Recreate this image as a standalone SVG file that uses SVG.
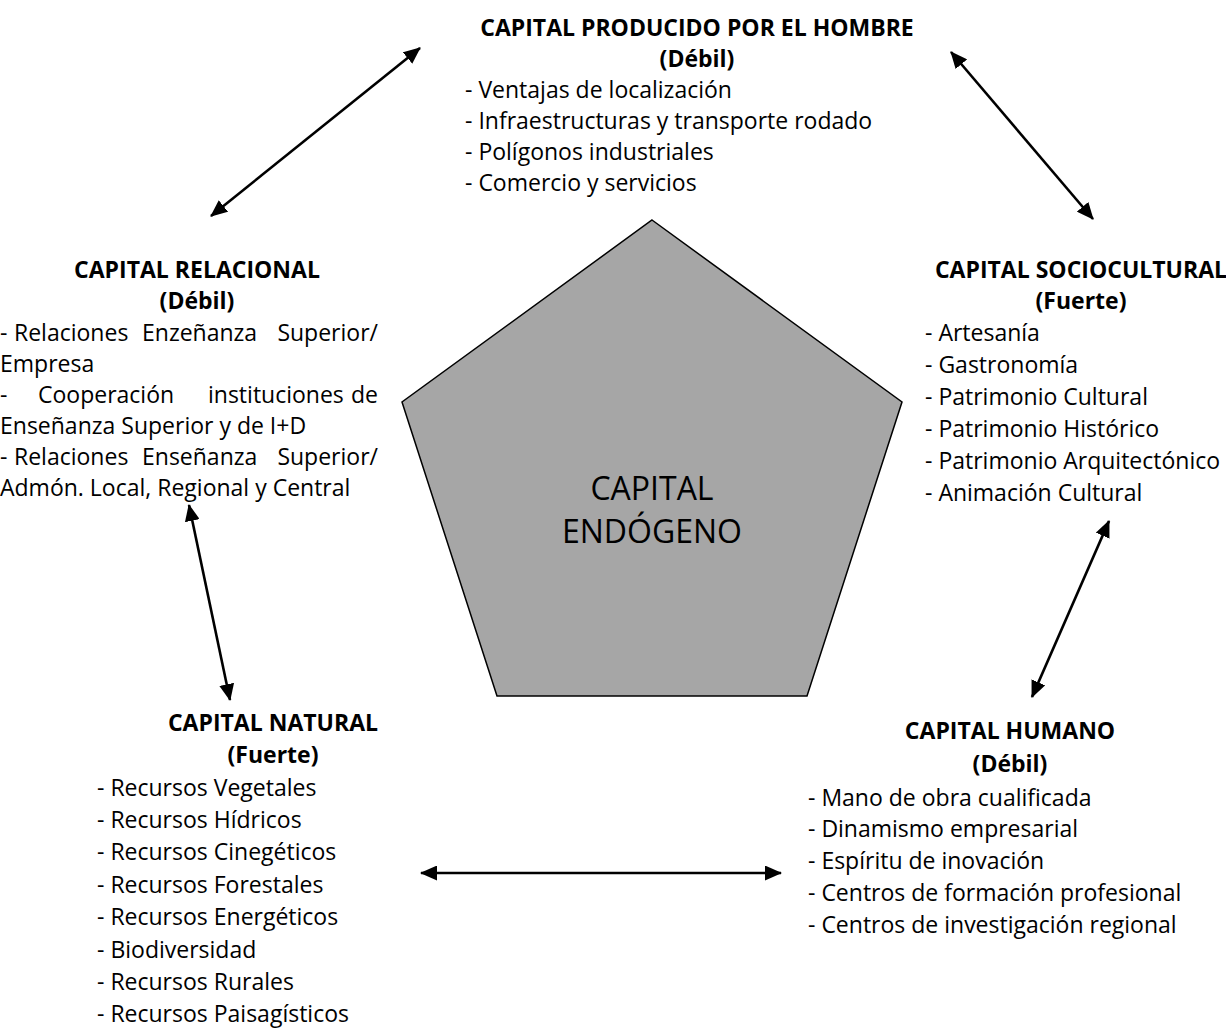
<svg xmlns="http://www.w3.org/2000/svg" width="1226" height="1028" viewBox="0 0 1226 1028">
<style>
text{font-family:"Open Sans","Liberation Sans",sans-serif;font-size:23px;fill:#000}
.t{font-weight:bold;text-anchor:middle}
.c{font-size:32px;text-anchor:middle}
.ln{stroke:#000;stroke-width:2.6;fill:none;marker-start:url(#ah);marker-end:url(#ah)}
</style>
<defs>
<marker id="ah" markerUnits="userSpaceOnUse" markerWidth="17" markerHeight="15" refX="16" refY="7.5" orient="auto-start-reverse" viewBox="0 0 17 15">
<path d="M0,0 L17,7.5 L0,15 Z" fill="#000"/>
</marker>
</defs>
<rect width="1226" height="1028" fill="#fff"/>
<g id="endogeno">
<polygon points="652,220 902,402 807,696 497,696 402,402" fill="#a6a6a6" stroke="#000" stroke-width="1.5"/>
<text class="c" x="652" y="500">CAPITAL</text>
<text class="c" x="652" y="543">ENDÓGENO</text>
</g>
<g id="producido">
<text class="t" x="697" y="36">CAPITAL PRODUCIDO POR EL HOMBRE</text>
<text class="t" x="697" y="67">(Débil)</text>
<text x="465" y="98">- Ventajas de localización</text>
<text x="465" y="129">- Infraestructuras y transporte rodado</text>
<text x="465" y="160">- Polígonos industriales</text>
<text x="465" y="191">- Comercio y servicios</text>
</g>
<g id="relacional">
<text class="t" x="197" y="278">CAPITAL RELACIONAL</text>
<text class="t" x="197" y="309">(Débil)</text>
<text y="341"><tspan x="0">-</tspan><tspan x="14">Relaciones</tspan><tspan x="142">Enzeñanza</tspan><tspan x="378" text-anchor="end">Superior/</tspan></text>
<text x="0" y="372">Empresa</text>
<text y="403"><tspan x="0">-</tspan><tspan x="38">Cooperación</tspan><tspan x="208">instituciones</tspan><tspan x="378" text-anchor="end">de</tspan></text>
<text x="0" y="434">Enseñanza Superior y de I+D</text>
<text y="465"><tspan x="0">-</tspan><tspan x="14">Relaciones</tspan><tspan x="142">Enseñanza</tspan><tspan x="378" text-anchor="end">Superior/</tspan></text>
<text x="0" y="496">Admón. Local, Regional y Central</text>
</g>
<g id="sociocultural">
<text class="t" x="1081" y="278">CAPITAL SOCIOCULTURAL</text>
<text class="t" x="1081" y="309">(Fuerte)</text>
<text x="925" y="341">- Artesanía</text>
<text x="925" y="373">- Gastronomía</text>
<text x="925" y="405">- Patrimonio Cultural</text>
<text x="925" y="437">- Patrimonio Histórico</text>
<text x="925" y="469">- Patrimonio Arquitectónico</text>
<text x="925" y="501">- Animación Cultural</text>
</g>
<g id="natural">
<text class="t" x="273" y="731">CAPITAL NATURAL</text>
<text class="t" x="273" y="763">(Fuerte)</text>
<text x="97" y="796">- Recursos Vegetales</text>
<text x="97" y="828">- Recursos Hídricos</text>
<text x="97" y="860">- Recursos Cinegéticos</text>
<text x="97" y="893">- Recursos Forestales</text>
<text x="97" y="925">- Recursos Energéticos</text>
<text x="97" y="958">- Biodiversidad</text>
<text x="97" y="990">- Recursos Rurales</text>
<text x="97" y="1022">- Recursos Paisagísticos</text>
</g>
<g id="humano">
<text class="t" x="1010" y="739">CAPITAL HUMANO</text>
<text class="t" x="1010" y="772">(Débil)</text>
<text x="808" y="806">- Mano de obra cualificada</text>
<text x="808" y="837">- Dinamismo empresarial</text>
<text x="808" y="869">- Espíritu de inovación</text>
<text x="808" y="901">- Centros de formación profesional</text>
<text x="808" y="933">- Centros de investigación regional</text>
</g>
<g id="connectors">
<line class="ln" x1="211" y1="216" x2="420" y2="48"/>
<line class="ln" x1="951" y1="52" x2="1093" y2="219"/>
<line class="ln" x1="189" y1="505" x2="230" y2="700"/>
<line class="ln" x1="1109" y1="521" x2="1032" y2="697"/>
<line class="ln" x1="421" y1="873" x2="781" y2="873"/>
</g>
</svg>
